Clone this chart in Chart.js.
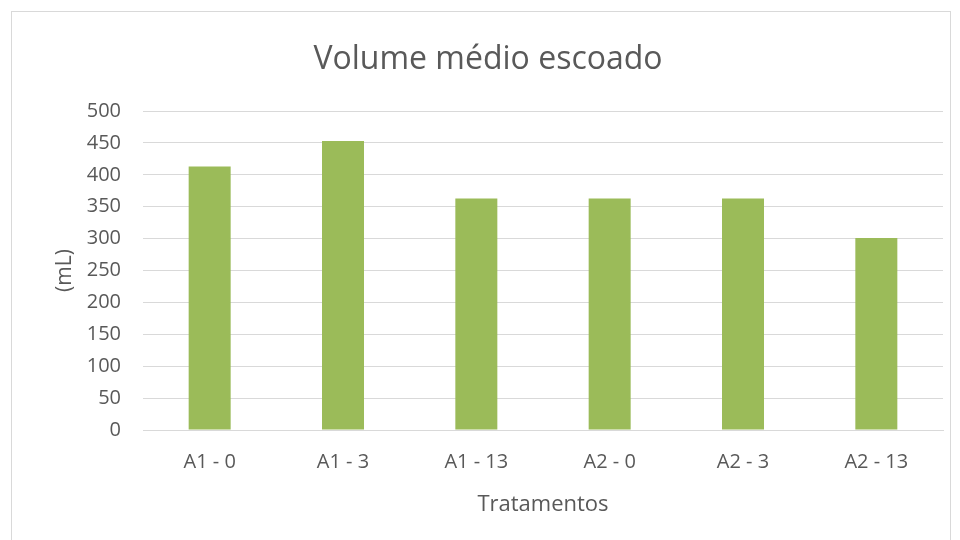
<!DOCTYPE html>
<html>
<head>
<meta charset="utf-8">
<style>
  html, body { margin: 0; padding: 0; background: #ffffff; }
  #wrap { width: 960px; height: 540px; position: relative; }
</style>
<script src="https://cdn.jsdelivr.net/npm/chart.js@4/dist/chart.umd.min.js"></script>
</head>
<body>
<div id="wrap"><canvas id="chart" width="960" height="540"></canvas></div>
<script>
// Tratamentos e volumes médios escoados (mL)
const categories = ['A1 - 0', 'A1 - 3', 'A1 - 13', 'A2 - 0', 'A2 - 3', 'A2 - 13'];
const volumes = [413, 453, 363, 363, 363, 301];
const yTicks = [0, 50, 100, 150, 200, 250, 300, 350, 400, 450, 500];
const chartTitle = 'Volume médio escoado';

const textColor = '#595959';
const gridColor = '#d9d9d9';
const fontFamily = '"Open Sans", "Segoe UI", sans-serif';

// Frame around the whole chart and the heading above the plot
const framePlugin = {
  id: 'frame',
  beforeDraw(chart) {
    const ctx = chart.ctx;
    ctx.save();
    ctx.fillStyle = '#ffffff';
    ctx.fillRect(0, 0, chart.width, chart.height);
    ctx.strokeStyle = '#d9d9d9';
    ctx.lineWidth = 1;
    ctx.strokeRect(11.5, 11.5, 939, 540);
    ctx.restore();
  },
  afterDraw(chart) {
    const ctx = chart.ctx;
    ctx.save();
    ctx.fillStyle = textColor;
    ctx.font = '32px ' + fontFamily;
    ctx.textAlign = 'center';
    ctx.textBaseline = 'alphabetic';
    ctx.fillText(chartTitle, 488, 69);
    ctx.restore();
  }
};

new Chart(document.getElementById('chart'), {
  type: 'bar',
  data: {
    labels: categories,
    datasets: [{
      data: volumes,
      backgroundColor: '#9bbb59',
      borderWidth: 0,
      barPercentage: 0.315,
      categoryPercentage: 1.0
    }]
  },
  options: {
    responsive: false,
    animation: false,
    devicePixelRatio: 1,
    layout: { padding: { left: 44, right: 17, top: 111, bottom: 0 } },
    plugins: {
      legend: { display: false },
      tooltip: { enabled: false },
      title: { display: false }
    },
    scales: {
      x: {
        grid: { display: false, drawTicks: false },
        border: { display: true, color: gridColor, width: 1 },
        ticks: {
          color: textColor,
          font: { family: fontFamily, size: 20 },
          padding: 20,
          maxRotation: 0
        },
        title: {
          display: true,
          text: 'Tratamentos',
          color: textColor,
          font: { family: fontFamily, size: 22 },
          padding: { top: 10, bottom: 22 }
        },
        afterFit(scale) { scale.height = 110; }
      },
      y: {
        min: 0,
        max: 500,
        afterBuildTicks(scale) { scale.ticks = yTicks.map(v => ({ value: v })); },
        grid: { color: gridColor, lineWidth: 1, drawTicks: false },
        border: { display: false },
        ticks: {
          color: textColor,
          font: { family: fontFamily, size: 20 },
          padding: 22
        },
        title: {
          display: true,
          text: '(mL)',
          color: textColor,
          font: { family: fontFamily, size: 21 },
          padding: { top: 8, bottom: 0 }
        },
        afterFit(scale) { scale.width = 99; }
      }
    }
  },
  plugins: [framePlugin]
});
</script>
</body>
</html>
